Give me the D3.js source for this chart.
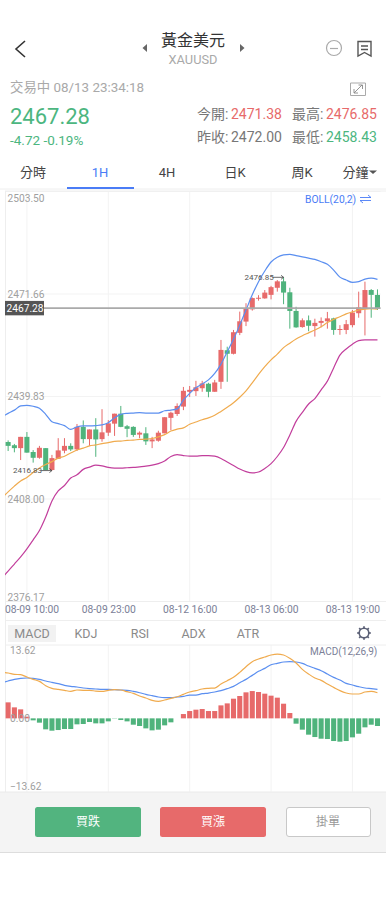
<!DOCTYPE html>
<html>
<head>
<meta charset="utf-8">
<title>XAUUSD</title>
<script src="https://cdn.jsdelivr.net/npm/d3@7"></script>
<style>
html, body { margin: 0; padding: 0; background: #fff; }
svg { display: block; }
text { font-family: Roboto, "Noto Sans CJK TC", sans-serif; }
</style>
</head>
<body>
<div id="chart"></div>
<script>
// 1H candles, oldest first
const candleOpen = [2425.7,2424.7,2423.8,2427.3,2422.6,2420.8,2423.8,2417.0,2420.5,2423.0,2424.5,2423.4,2430.4,2426.6,2429.6,2426.6,2428.6,2431.4,2434.5,2430.6,2430.4,2428.0,2428.4,2425.9,2426.1,2428.4,2433.2,2434.4,2436.7,2441.3,2441.5,2442.4,2443.8,2441.3,2444.4,2454.2,2453.1,2459.6,2463.1,2466.9,2470.2,2470.3,2471.4,2473.6,2475.6,2472.2,2466.4,2461.4,2463.5,2461.7,2462.7,2463.2,2464.1,2460.5,2460.5,2462.0,2465.7,2467.3,2472.9,2471.38];
const candleHigh = [2426.2,2425.1,2427.3,2428.8,2423.2,2424.5,2423.8,2421.7,2426.9,2426.9,2425.3,2431.3,2432.4,2429.6,2433.1,2435.9,2432.5,2434.5,2436.9,2431.0,2430.6,2429.0,2430.3,2427.3,2429.2,2433.4,2435.1,2437.7,2442.8,2443.1,2444.7,2444.7,2444.1,2445.0,2457.4,2455.3,2460.5,2466.2,2468.8,2470.6,2471.3,2472.9,2474.2,2476.0,2476.85,2473.6,2467.7,2464.1,2465.0,2464.0,2464.4,2466.1,2464.3,2462.0,2463.6,2466.7,2472.4,2475.5,2473.2,2473.1];
const candleLow = [2422.9,2422.5,2420.1,2422.4,2419.3,2420.5,2417.0,2416.83,2420.5,2422.2,2422.9,2422.9,2425.3,2424.5,2421.1,2425.8,2427.6,2427.6,2430.3,2427.2,2427.3,2426.9,2424.8,2423.8,2425.8,2428.4,2429.4,2433.8,2435.6,2439.7,2440.0,2441.3,2439.6,2441.3,2442.2,2444.4,2452.9,2458.9,2461.7,2466.5,2469.6,2470.2,2470.0,2472.4,2468.5,2460.9,2461.2,2461.2,2460.1,2458.43,2461.3,2460.9,2459.0,2459.0,2459.2,2461.3,2464.3,2458.8,2464.3,2466.7];
const candleClose = [2424.5,2423.8,2427.3,2422.4,2420.8,2423.9,2417.0,2420.7,2423.1,2424.5,2423.4,2430.4,2426.6,2429.6,2426.5,2428.7,2431.5,2434.5,2430.4,2429.8,2427.9,2428.6,2425.9,2426.5,2428.6,2433.4,2434.8,2436.9,2441.6,2441.9,2442.7,2443.9,2441.3,2444.2,2454.3,2453.1,2459.8,2463.2,2467.2,2470.4,2470.5,2472.1,2473.8,2475.6,2472.1,2466.4,2461.3,2463.5,2461.8,2462.7,2463.3,2464.1,2460.5,2460.8,2462.3,2465.9,2467.5,2472.9,2471.4,2467.28];

// indicator lines carry one extra value in front, it sits just left of the plot and gets clipped
const bollUp = [2433.5,2434.6,2435.6,2436.9,2437.1,2436.8,2436.2,2434.3,2432.0,2431.4,2430.8,2429.6,2430.4,2430.7,2430.7,2430.8,2431.0,2431.7,2433.2,2434.3,2434.6,2434.7,2434.8,2434.7,2434.7,2434.7,2435.4,2435.6,2436.0,2438.7,2440.8,2442.6,2443.7,2445.0,2447.0,2449.9,2453.7,2457.6,2462.0,2466.7,2471.4,2475.5,2478.8,2481.6,2483.1,2483.8,2484.0,2483.6,2483.2,2482.8,2482.4,2481.7,2480.9,2479.1,2476.9,2476.0,2475.3,2475.5,2476.3,2476.6,2476.2];
const bollMid = [2408.3,2410.2,2412.0,2413.6,2414.7,2416.2,2417.6,2418.7,2419.6,2420.7,2421.3,2422.3,2423.2,2423.8,2424.5,2424.8,2425.2,2425.5,2425.9,2426.0,2426.2,2426.3,2426.5,2426.6,2426.8,2427.3,2428.0,2429.1,2429.7,2430.1,2431.2,2431.9,2432.6,2433.2,2434.0,2435.2,2436.5,2437.9,2439.6,2441.6,2444.1,2446.7,2449.1,2451.2,2453.0,2455.0,2456.4,2457.7,2458.7,2459.6,2460.5,2461.5,2462.8,2463.8,2464.6,2465.5,2466.1,2466.7,2467.0,2467.1,2467.0];
const bollLow = [2383.5,2385.6,2387.8,2390.0,2392.5,2395.3,2398.2,2402.4,2407.4,2410.5,2412.2,2414.5,2415.5,2417.2,2417.9,2418.5,2418.3,2417.8,2417.6,2417.6,2417.7,2417.8,2418.0,2418.2,2418.5,2419.0,2419.8,2421.2,2421.8,2421.5,2421.3,2421.3,2421.5,2421.5,2421.3,2420.6,2419.5,2418.4,2417.3,2416.5,2416.1,2416.4,2417.5,2419.0,2421.2,2424.0,2427.9,2432.1,2434.9,2437.5,2439.2,2441.9,2444.6,2448.7,2452.7,2454.6,2456.1,2457.2,2457.4,2457.4,2457.4];

const macdDif = [8.54,8.42,8.17,8.11,7.67,7.24,6.87,6.06,5.57,5.38,5.20,5.01,5.26,5.20,5.20,5.07,5.01,5.20,5.32,5.26,4.95,4.64,4.15,3.77,3.34,3.16,3.40,3.71,4.02,4.46,4.89,5.14,5.45,5.57,5.63,6.37,6.99,7.61,8.54,9.59,10.52,11.01,11.39,11.76,11.94,11.76,11.14,10.27,9.10,8.23,7.49,7.05,6.37,5.75,5.14,4.70,4.52,4.52,4.89,5.01,4.76];
const macdDea = [6.62,6.93,7.24,7.43,7.49,7.43,7.24,6.93,6.68,6.44,6.13,5.94,5.82,5.63,5.51,5.45,5.38,5.38,5.32,5.26,5.20,5.01,4.76,4.46,4.21,3.96,3.84,3.84,3.96,4.08,4.33,4.33,4.58,4.70,4.89,5.14,5.51,5.94,6.62,7.24,7.98,8.73,9.28,9.96,10.21,10.46,10.52,10.46,10.21,9.72,9.28,8.85,8.23,7.61,7.12,6.50,6.19,5.88,5.63,5.51,5.38];
const macdHist = [2.97,2.04,1.67,0.31,-0.37,-0.80,-2.04,-2.29,-2.17,-1.98,-1.98,-1.11,-1.05,-0.68,-0.93,-0.93,-0.56,-0.05,-0.31,-0.56,-1.18,-1.42,-1.86,-2.23,-2.10,-1.30,-0.74,0,0.80,1.36,1.61,1.73,1.36,1.36,2.41,2.78,3.65,4.15,4.83,5.07,4.89,4.58,4.21,3.84,2.72,0.99,-0.99,-2.10,-3.03,-3.47,-3.78,-3.84,-4.21,-4.33,-4.21,-3.53,-2.85,-1.67,-1.18,-1.42];

const priceTicks = [2503.50, 2471.66, 2439.83, 2408.00, 2376.17];
const macdTicks = [13.62, 0, -13.62];
const timeTickIndex = [3, 16, 29, 42, 55];
const timeTickLabels = ["08-09 10:00", "08-09 23:00", "08-12 16:00", "08-13 06:00", "08-13 19:00"];
const lastPrice = 2467.28;
const highMark = { index: 44, value: 2476.85 };
const lowMark = { index: 7, value: 2416.83 };

const periodTabs = ["分時", "1H", "4H", "日K", "周K", "分鐘"];
const periodTabX = [33, 100, 167, 235, 302, 355.5];
const indicatorTabs = ["MACD", "KDJ", "RSI", "ADX", "ATR"];
const indicatorTabX = [32, 86, 140, 193.5, 248];

const RED = "#e76a6a", GREEN = "#4fb37c", BLUE = "#4a7cf6", GRID = "#f3f3f3";

const svg = d3.select("#chart").append("svg")
    .attr("width", 386)
    .attr("height", 900);

function label(x, y, str, size, fill, anchor) {
    return svg.append("text")
        .attr("x", x)
        .attr("y", y)
        .attr("dy", "0.35em")
        .attr("font-size", size)
        .attr("fill", fill)
        .attr("text-anchor", anchor || "start")
        .text(str);
}

// ---- header ----
svg.append("path").attr("d", "M25,41 L16,49 L25,57").attr("fill", "none").attr("stroke", "#333").attr("stroke-width", 1.6);
label(193, 40, "黃金美元", 16, "#333", "middle");
label(193, 60, "XAUUSD", 12.8, "#a9a9a9", "middle");
svg.append("path").attr("d", "M147,44 L147,52 L142.5,48 Z").attr("fill", "#666");
svg.append("path").attr("d", "M240,44 L240,52 L244.5,48 Z").attr("fill", "#666");
svg.append("circle").attr("cx", 334).attr("cy", 48).attr("r", 7.5).attr("fill", "none").attr("stroke", "#aaa").attr("stroke-width", 1.2);
svg.append("path").attr("d", "M330,48.5 H338").attr("stroke", "#aaa").attr("stroke-width", 1.2);
svg.append("path").attr("d", "M358,41.5 H371 V56 L364.5,52.5 L358,56 Z M361,46 H368 M361,49.5 H368").attr("fill", "none").attr("stroke", "#555").attr("stroke-width", 1.4);

label(10, 87, "交易中 08/13 23:34:18", 13.4, "#a9a9a9");
svg.append("path").attr("d", "M350.5,83 H365.5 V95.5 H350.5 Z").attr("fill", "none").attr("stroke", "#aaa").attr("stroke-width", 1);
svg.append("path").attr("d", "M354,93 L362,85 M358.5,85 H362.5 V89 M354,89 V93 H358").attr("fill", "none").attr("stroke", "#888").attr("stroke-width", 0.9);

label(10, 116.5, "2467.28", 22, "#4cb67f");
label(10, 140, "-4.72 -0.19%", 13.5, "#4cb67f");
label(197, 114, "今開:", 14, "#777");
label(231, 114, "2471.38", 14, RED);
label(292, 114, "最高:", 14, "#777");
label(326, 114, "2476.85", 14, RED);
label(197, 137, "昨收:", 14, "#777");
label(231, 137, "2472.00", 14, "#777");
label(292, 137, "最低:", 14, "#777");
label(326, 137, "2458.43", 14, "#4cb67f");

periodTabs.forEach(function (t, i) {
    label(periodTabX[i], 172, t, 13, i === 1 ? BLUE : "#444", "middle");
});
svg.append("path").attr("d", "M369,170.5 H377 L373,174 Z").attr("fill", "#555");
svg.append("line").attr("x1", 0).attr("x2", 386).attr("y1", 189).attr("y2", 189).attr("stroke", "#eee");
svg.append("rect").attr("x", 67).attr("y", 187).attr("width", 67).attr("height", 2).attr("fill", BLUE);

// ---- scales ----
const left = 5, right = 380.6;
const xScale = d3.scaleLinear().domain([-0.5, 59.5]).range([left, right]);
const yScale = d3.scaleLinear().domain([2376.17, 2503.50]).range([601.5, 191.5]);
const mScale = d3.scaleLinear().domain([-13.62, 13.62]).range([791.7, 645]);
const candleWidth = xScale(1) - xScale(0) - 1.2;

svg.append("clipPath").attr("id", "plotClip")
    .append("rect").attr("x", left).attr("y", 185).attr("width", right - left).attr("height", 620);

// ---- grid ----
const gridG = svg.append("g").attr("stroke", GRID).attr("stroke-width", 1);
gridG.selectAll(".hgrid").data(priceTicks).enter().append("line")
    .attr("x1", left).attr("x2", right)
    .attr("y1", d => yScale(d)).attr("y2", d => yScale(d));
gridG.selectAll(".vgrid").data(timeTickIndex).enter().append("line")
    .attr("x1", d => xScale(d)).attr("x2", d => xScale(d))
    .attr("y1", 191.5).attr("y2", 601.5);
gridG.selectAll(".vgrid2").data(timeTickIndex).enter().append("line")
    .attr("x1", d => xScale(d)).attr("x2", d => xScale(d))
    .attr("y1", 645).attr("y2", 791.7);
svg.append("line").attr("x1", 5.5).attr("x2", 5.5).attr("y1", 191).attr("y2", 792).attr("stroke", "#eee");
[191, 601.5].forEach(function (y) {
    svg.append("line").attr("x1", left).attr("x2", 386).attr("y1", y).attr("y2", y).attr("stroke", "#eee");
});

// ---- candles ----
const candles = d3.range(candleClose.length);
const candleColor = i => candleClose[i] > candleOpen[i] ? RED : GREEN;

svg.append("g").selectAll("line").data(candles).enter().append("line")
    .attr("x1", i => xScale(i)).attr("x2", i => xScale(i))
    .attr("y1", i => yScale(candleHigh[i])).attr("y2", i => yScale(candleLow[i]))
    .attr("stroke", candleColor)
    .attr("stroke-width", 1);

svg.append("g").selectAll("rect").data(candles).enter().append("rect")
    .attr("x", i => xScale(i) - candleWidth / 2)
    .attr("width", candleWidth)
    .attr("y", i => yScale(Math.max(candleOpen[i], candleClose[i])))
    .attr("height", i => Math.max(1, Math.abs(yScale(candleOpen[i]) - yScale(candleClose[i]))))
    .attr("fill", candleColor);

// ---- boll lines ----
function drawLine(values, scale, color) {
    const line = d3.line()
        .x((d, i) => xScale(i - 1))
        .y(d => scale(d))
        .curve(d3.curveMonotoneX);
    svg.append("path")
        .datum(values)
        .attr("clip-path", "url(#plotClip)")
        .attr("fill", "none")
        .attr("stroke", color)
        .attr("stroke-width", 1.2)
        .attr("d", line);
}
drawLine(bollUp, yScale, "#5b8ff0");
drawLine(bollMid, yScale, "#f0ab4e");
drawLine(bollLow, yScale, "#c23e9c");

// ---- price axis ----
const yAxisG = svg.append("g")
    .attr("transform", "translate(7.5,0)")
    .call(d3.axisRight(yScale).tickValues(priceTicks).tickFormat(d3.format(".2f")).tickSize(0).tickPadding(0));
yAxisG.select(".domain").remove();
yAxisG.selectAll("text")
    .attr("font-size", 10.2)
    .attr("font-family", "Roboto")
    .attr("fill", "#a0a0a0")
    .attr("dy", d => d === 2503.50 ? "1.0em" : d === 2376.17 ? "-0.1em" : "0.3em");

// last price marker
svg.append("line")
    .attr("x1", 44).attr("x2", right)
    .attr("y1", yScale(lastPrice)).attr("y2", yScale(lastPrice))
    .attr("stroke", "#aaa").attr("stroke-width", 1.8);
svg.append("rect").attr("x", left).attr("y", yScale(lastPrice) - 7.2).attr("width", 39).attr("height", 14.4).attr("fill", "#555");
label(left + 1.5, yScale(lastPrice), d3.format(".2f")(lastPrice), 10.2, "#fff");

// high / low marks
function markText(mark) {
    const x = xScale(mark.index), y = yScale(mark.value);
    label(x - 39, y, d3.format(".2f")(mark.value), 8, "#555");
    svg.append("path")
        .attr("d", `M${x - 11},${y} H${x} M${x - 2.5},${y - 2} L${x},${y} L${x - 2.5},${y + 2}`)
        .attr("fill", "none").attr("stroke", "#444").attr("stroke-width", 0.8);
}
markText(highMark);
markText(lowMark);

label(305, 199, "BOLL(20,2)", 10.3, BLUE);
svg.append("path").attr("d", "M360,197.5 H371 L368,195 M371,200.5 H360 L363,203").attr("fill", "none").attr("stroke", BLUE).attr("stroke-width", 0.9);

// ---- time axis ----
const xAxisG = svg.append("g")
    .attr("transform", "translate(0,606)")
    .call(d3.axisBottom(xScale).tickValues(timeTickIndex).tickFormat((d, i) => timeTickLabels[i]).tickSize(0).tickPadding(0));
xAxisG.select(".domain").remove();
xAxisG.selectAll("text")
    .attr("font-size", 10.3)
    .attr("font-family", "Roboto")
    .attr("fill", "#7b8097");
xAxisG.selectAll(".tick").filter((d, i) => i === 0).select("text").attr("x", 4.6);

// ---- indicator tabs ----
svg.append("line").attr("x1", left).attr("x2", 386).attr("y1", 620.5).attr("y2", 620.5).attr("stroke", "#eee");
svg.append("line").attr("x1", left).attr("x2", 386).attr("y1", 645).attr("y2", 645).attr("stroke", "#eee");
svg.append("rect").attr("x", 8).attr("y", 625).attr("width", 48).attr("height", 17).attr("fill", "#f2f2f2");
indicatorTabs.forEach(function (t, i) {
    label(indicatorTabX[i], 633.5, t, 12.5, "#8a8a8a", "middle");
});
const gear = svg.append("g").attr("transform", "translate(364,633)");
gear.append("circle").attr("r", 4.8).attr("fill", "none").attr("stroke", "#5a5f75").attr("stroke-width", 1.6);
gear.selectAll("line").data(d3.range(8)).enter().append("line")
    .attr("x1", 4.6).attr("x2", 6.8)
    .attr("transform", d => `rotate(${d * 45})`)
    .attr("stroke", "#5a5f75").attr("stroke-width", 1.7);

// ---- macd panel ----
svg.append("g").selectAll("rect").data(candles).enter().append("rect")
    .attr("x", i => xScale(i) - candleWidth / 2)
    .attr("width", candleWidth)
    .attr("y", i => Math.min(mScale(0), mScale(macdHist[i])))
    .attr("height", i => Math.abs(mScale(macdHist[i]) - mScale(0)))
    .attr("fill", i => macdHist[i] >= 0 ? RED : GREEN);
drawLine(macdDea, mScale, "#5b8ff0");
drawLine(macdDif, mScale, "#f0ab4e");

const mAxisG = svg.append("g")
    .attr("transform", "translate(10,0)")
    .call(d3.axisRight(mScale).tickValues(macdTicks).tickFormat(d3.format(".2f")).tickSize(0).tickPadding(0));
mAxisG.select(".domain").remove();
mAxisG.selectAll("text")
    .attr("font-size", 10.2)
    .attr("font-family", "Roboto")
    .attr("fill", "#a0a0a0")
    .attr("dy", d => d > 0 ? "0.85em" : d < 0 ? "-0.25em" : "0.3em");

label(310, 651.5, "MACD(12,26,9)", 10, "#7b8097");

// ---- footer ----
svg.append("rect").attr("x", 0).attr("y", 792).attr("width", 386).attr("height", 60).attr("fill", "#f4f4f4");
svg.append("line").attr("x1", 0).attr("x2", 386).attr("y1", 852.5).attr("y2", 852.5).attr("stroke", "#ddd");
svg.append("line").attr("x1", 0).attr("x2", 386).attr("y1", 792).attr("y2", 792).attr("stroke", "#eaeaea");
svg.append("rect").attr("x", 35).attr("y", 807).attr("width", 106).attr("height", 30).attr("rx", 2.5).attr("fill", "#52b47f");
svg.append("rect").attr("x", 160).attr("y", 807).attr("width", 106).attr("height", 30).attr("rx", 2.5).attr("fill", RED);
svg.append("rect").attr("x", 286.5).attr("y", 807.5).attr("width", 84).attr("height", 29).attr("rx", 2.5).attr("fill", "#fff").attr("stroke", "#c8c8c8");
label(88, 822, "買跌", 12, "#fff", "middle");
label(213, 822, "買漲", 12, "#fff", "middle");
label(328, 822, "掛單", 12, "#999", "middle");
</script>
</body>
</html>
